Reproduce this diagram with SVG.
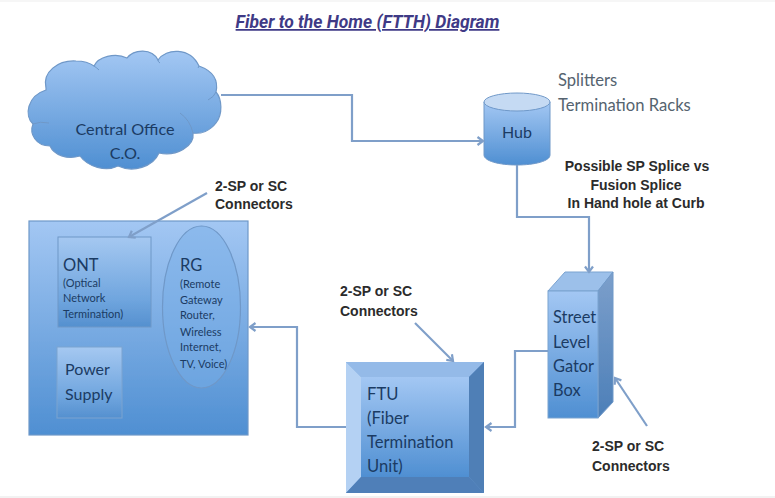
<svg xmlns="http://www.w3.org/2000/svg" width="775" height="498" viewBox="0 0 775 498">
<style>
.lb{font-family:"Lato","Liberation Sans",sans-serif;fill:#1b3b63}
.cb{font-family:"Lato","Liberation Sans",sans-serif;fill:#55636f}
.bd{font-family:"Liberation Sans",Arial,sans-serif;font-weight:700;font-size:14px;fill:#2b2b2b}
.cn{fill:none;stroke:#7f9fc9;stroke-width:2.2}
</style>
<defs>
<linearGradient id="g" x1="0" y1="0" x2="0" y2="1"><stop offset="0" stop-color="#a3c7f3"/><stop offset="1" stop-color="#4f8fd2"/></linearGradient>
<linearGradient id="gs" x1="0" y1="0" x2="0" y2="1"><stop offset="0" stop-color="#a5c8f1"/><stop offset=".7" stop-color="#6fa5de"/><stop offset="1" stop-color="#5590cf"/></linearGradient>
<linearGradient id="side" x1="0" y1="0" x2="0" y2="1"><stop offset="0" stop-color="#7c9fcb"/><stop offset="1" stop-color="#4c7fb8"/></linearGradient>
<filter id="soft" x="-5%" y="-5%" width="110%" height="110%"><feGaussianBlur stdDeviation="0.5"/></filter>
<marker id="ah" markerWidth="11" markerHeight="11" refX="8" refY="5" orient="auto" markerUnits="userSpaceOnUse"><path d="M2.500 1L8 5L2.500 9" fill="none" stroke="#7f9fc9" stroke-width="2.200"/></marker>
</defs>
<rect width="775" height="498" fill="#fff"/>
<rect width="775" height="2" fill="#f6f6f6"/>
<rect y="496" width="775" height="2" fill="#f2f2f2"/>
<text id="title" x="367.500" y="28" text-anchor="middle" font-family="Roboto,'Liberation Sans',sans-serif" font-size="17.500" font-weight="700" font-style="italic" text-decoration="underline" fill="#3f3a86">Fiber to the Home (FTTH) Diagram</text>

<g id="central-office">
<path filter="url(#soft)" fill="url(#g)" stroke="#6f98c8" stroke-width="1.200" d="M46 88C42 72 58 60 76 61C84 61 90 63 94 66C98 57 115 52 127 58C134 49 152 48 158 60C166 48 190 47 199 66C210 70 219 78 216 92C222 99 223 114 216 123C210 131 201 134 193 133C195 146 176 157 159 153C153 167 133 173 118 166C106 172 88 167 80 156C67 160 54 155 50 146C36 146 29 134 33 124C24 116 27 96 46 90Z"/>
<path filter="url(#soft)" fill="none" stroke="#6f98c8" stroke-width="1" d="M208 100Q214 97 216 92M180 113Q190 120 193 133M33 124Q40 121 49 123M94 66Q97 68 99 70M158 60Q158 62 160 63M199 66L198 68"/>
<text class="lb" x="125" y="135" text-anchor="middle" font-size="16.200">Central Office</text>
<text class="lb" x="125" y="159" text-anchor="middle" font-size="16.200">C.O.</text>
</g>

<g id="hub">
<path filter="url(#soft)" fill="url(#g)" stroke="#6f98c8" stroke-width="1" d="M484 102V155C484 161 499 165 517 165C535 165 550 161 550 155V102Z"/>
<ellipse filter="url(#soft)" cx="517" cy="102" rx="33" ry="9" fill="#c5daf3" stroke="#6f98c8" stroke-width="1"/>
<text class="lb" x="517" y="138" text-anchor="middle" font-size="16">Hub</text>
</g>
<g id="hub-notes">
<text class="cb" x="558" y="86" font-size="16.600">Splitters</text>
<text class="cb" x="558" y="111" font-size="16.600">Termination Racks</text>
</g>
<g id="splice-note">
<text class="bd" x="637" y="171" text-anchor="middle">Possible SP Splice vs</text>
<text class="bd" x="636" y="190" text-anchor="middle">Fusion Splice</text>
<text class="bd" x="636" y="208" text-anchor="middle">In Hand hole at Curb</text>
</g>

<g id="premises">
<rect filter="url(#soft)" x="29" y="221" width="219" height="214" fill="url(#g)" stroke="#6f98c8" stroke-width="1.200"/>
</g>
<g id="ont">
<rect filter="url(#soft)" x="58" y="237" width="93" height="90" fill="url(#gs)" stroke="#6f98c8" stroke-width="1"/>
<text class="lb" x="63" y="271" font-size="16.500">ONT</text>
<text class="lb" x="63" y="287" font-size="11">(Optical</text>
<text class="lb" x="63" y="302" font-size="11">Network</text>
<text class="lb" x="63" y="318" font-size="11">Termination)</text>
</g>
<g id="power-supply">
<rect filter="url(#soft)" x="57" y="347" width="65" height="71" fill="url(#gs)" stroke="#7ba3d0" stroke-width="1"/>
<text class="lb" x="65" y="375" font-size="16">Power</text>
<text class="lb" x="65" y="400" font-size="16">Supply</text>
</g>
<g id="rg">
<ellipse filter="url(#soft)" cx="201.500" cy="307" rx="39" ry="81" fill="#78ade8" fill-opacity=".5" stroke="#6f98c8" stroke-width="1.200"/>
<text class="lb" x="180" y="271" font-size="16.500">RG</text>
<text class="lb" x="180" y="288" font-size="11">(Remote</text>
<text class="lb" x="180" y="304" font-size="11">Gateway</text>
<text class="lb" x="180" y="319" font-size="11">Router,</text>
<text class="lb" x="180" y="336" font-size="11">Wireless</text>
<text class="lb" x="180" y="351" font-size="11">Internet,</text>
<text class="lb" x="180" y="368" font-size="11">TV, Voice)</text>
</g>

<g id="ftu">
<g filter="url(#soft)">
<rect x="346" y="362" width="138" height="131" fill="#6d9fd8"/>
<path d="M346 362H484L469 377H361Z" fill="#94bae8"/>
<path d="M346 362L361 377V477L346 493Z" fill="#b4d1f3"/>
<path d="M484 362L469 377V477L484 493Z" fill="#4f7fb6"/>
<path d="M346 493L361 477H469L484 493Z" fill="#4f7fb8"/>
<rect x="361" y="377" width="108" height="100" fill="url(#g)"/>
</g>
<text class="lb" x="367" y="400" font-size="16.600">FTU</text>
<text class="lb" x="367" y="424" font-size="16.600">(Fiber</text>
<text class="lb" x="367" y="448" font-size="16.600">Termination</text>
<text class="lb" x="367" y="472" font-size="16.600">Unit)</text>
</g>

<g id="gator-box">
<g filter="url(#soft)">
<path d="M548 291L565 272H613L598 291Z" fill="#9cc0ea" stroke="#7ba3d0"/>
<path d="M598 291L613 272V402L598 418Z" fill="url(#side)" stroke="#6f98c8"/>
<rect x="548" y="291" width="50" height="127" fill="url(#g)" stroke="#7ba3d0"/>
</g>
<text class="lb" x="553" y="323" font-size="16.400">Street</text>
<text class="lb" x="553" y="348" font-size="16.400">Level</text>
<text class="lb" x="553" y="372" font-size="16.400">Gator</text>
<text class="lb" x="553" y="396" font-size="16.400">Box</text>
</g>

<g id="notes">
<text class="bd" x="215" y="191">2-SP or SC</text>
<text class="bd" x="215" y="209">Connectors</text>
<text class="bd" x="340" y="296">2-SP or SC</text>
<text class="bd" x="340" y="316">Connectors</text>
<text class="bd" x="592" y="451">2-SP or SC</text>
<text class="bd" x="592" y="471">Connectors</text>
</g>

<g id="connectors" filter="url(#soft)">
<path class="cn" marker-end="url(#ah)" d="M221 95H352V141H483"/>
<path class="cn" marker-end="url(#ah)" d="M517 165V217H589V272"/>
<path class="cn" marker-end="url(#ah)" d="M548 351H515V427H486"/>
<path class="cn" marker-end="url(#ah)" d="M346 427H297V327H250"/>
<path class="cn" marker-end="url(#ah)" d="M207 193L129 237"/>
<path class="cn" marker-end="url(#ah)" d="M415 323L453 361"/>
<path class="cn" marker-end="url(#ah)" d="M647 426L615 378"/>
</g>
</svg>
